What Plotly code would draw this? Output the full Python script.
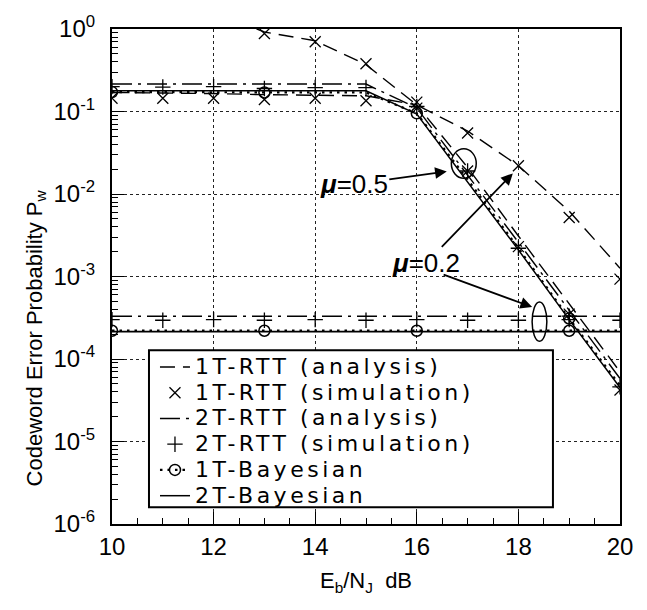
import plotly.graph_objects as go

# ---------------- data ----------------
ebnj = [10, 11, 12, 13, 14, 15, 16, 17, 18, 19, 20]
ebnj_rtt1_ana_mu02 = [12, 13, 14, 15, 16, 17, 18, 19, 20]
ebnj_rtt1_sim_mu02 = [13, 14, 15, 16, 17, 18, 19, 20]

# mu = 0.5
rtt1_ana_mu05 = [0.170, 0.168, 0.165, 0.160, 0.156, 0.155, 0.120, 0.021, 3.1e-3, 4.7e-4, 7.0e-5]
rtt1_sim_mu05 = [0.145, 0.145, 0.145, 0.140, 0.145, 0.135, 0.110, 0.019, 2.3e-3, 3.5e-4, 4.2e-5]
rtt2_ana_mu05 = [0.215, 0.215, 0.215, 0.215, 0.215, 0.215, 0.110, 0.017, 2.6e-3, 3.9e-4, 5.8e-5]
rtt2_sim_mu05 = [0.200, 0.198, 0.200, 0.190, 0.195, 0.195, 0.115, 0.019, 2.2e-3, 3.3e-4, 4.6e-5]
bay1_mu05 = [0.172, 0.172, 0.172, 0.170, 0.170, 0.170, 0.095, 0.0150, 2.2e-3, 3.1e-4, 4.8e-5]
bay2_mu05 = [0.178, 0.178, 0.178, 0.178, 0.178, 0.178, 0.093, 0.0140, 2.1e-3, 3.0e-4, 4.5e-5]

# mu = 0.2
rtt1_ana_mu02 = [1.6, 0.92, 0.72, 0.37, 0.12, 0.058, 0.022, 6.2e-3, 1.26e-3]
rtt1_sim_mu02 = [0.88, 0.70, 0.38, 0.13, 0.055, 0.022, 5.2e-3, 9.3e-4]
rtt2_ana_mu02 = [3.3e-4, 3.3e-4, 3.3e-4, 3.3e-4, 3.3e-4, 3.3e-4, 3.3e-4, 3.3e-4, 3.3e-4, 3.3e-4, 3.3e-4]
rtt2_sim_mu02 = [3.0e-4, 2.95e-4, 3.0e-4, 2.95e-4, 3.0e-4, 2.95e-4, 3.0e-4, 2.95e-4, 2.95e-4, 3.0e-4, 2.95e-4]
bay1_mu02 = [2.2e-4, 2.2e-4, 2.2e-4, 2.2e-4, 2.2e-4, 2.2e-4, 2.2e-4, 2.2e-4, 2.2e-4, 2.2e-4, 2.2e-4]
bay2_mu02 = [2.15e-4, 2.15e-4, 2.15e-4, 2.15e-4, 2.15e-4, 2.15e-4, 2.15e-4, 2.15e-4, 2.15e-4, 2.15e-4, 2.15e-4]

legend_names = ["1T-RTT (analysis)", "1T-RTT (simulation)", "2T-RTT (analysis)",
                "2T-RTT (simulation)", "1T-Bayesian", "2T-Bayesian"]

x_tickvals = [10, 12, 14, 16, 18, 20]
x_ticktext = ["10", "12", "14", "16", "18", "20"]
y_tickvals = [1e-6, 1e-5, 1e-4, 1e-3, 1e-2, 1e-1, 1]
y_ticktext = ["10<sup>-6</sup>", "10<sup>-5</sup>", "10<sup>-4</sup>", "10<sup>-3</sup>",
              "10<sup>-2</sup>", "10<sup>-1</sup>", "10<sup>0</sup>"]

y_title = "Codeword Error Probability P<sub>w</sub>"
x_title = "E<sub>b</sub>/N<sub>J</sub>\u00a0 dB"

# ---------------- styles ----------------
BLACK = "black"
DASH_1T = "15px,8px"
DASH_2T = "20px,6px,3px,6px"
DOT_BAY = "2.5px,5px"
FONT = "Liberation Sans, Arial, sans-serif"


def legname(s):
    return '<span style="font-size:22px;letter-spacing:3.5px">%s</span>' % s


XMARK = dict(symbol="x-thin-open", size=11, color=BLACK, line=dict(color=BLACK, width=1.3))
PMARK = dict(symbol="cross-thin-open", size=11, color=BLACK, line=dict(color=BLACK, width=1.3))
OMARK = dict(symbol="circle-open", size=11, color=BLACK, line=dict(color=BLACK, width=1.5))

fig = go.Figure()

# 1T-RTT analysis
fig.add_trace(go.Scatter(x=ebnj, y=rtt1_ana_mu05, mode="lines", name=legname(legend_names[0]),
                         legendgroup="a", line=dict(color=BLACK, width=1.4, dash=DASH_1T)))
fig.add_trace(go.Scatter(x=ebnj_rtt1_ana_mu02, y=rtt1_ana_mu02, mode="lines", legendgroup="a",
                         showlegend=False, line=dict(color=BLACK, width=1.4, dash=DASH_1T)))
# 1T-RTT simulation
fig.add_trace(go.Scatter(x=ebnj, y=rtt1_sim_mu05, mode="markers", name=legname(legend_names[1]),
                         legendgroup="b", marker=XMARK))
fig.add_trace(go.Scatter(x=ebnj_rtt1_sim_mu02, y=rtt1_sim_mu02, mode="markers", legendgroup="b",
                         showlegend=False, marker=XMARK))
# 2T-RTT analysis
fig.add_trace(go.Scatter(x=ebnj, y=rtt2_ana_mu05, mode="lines", name=legname(legend_names[2]),
                         legendgroup="c", line=dict(color=BLACK, width=1.4, dash=DASH_2T)))
fig.add_trace(go.Scatter(x=ebnj, y=rtt2_ana_mu02, mode="lines", legendgroup="c", showlegend=False,
                         line=dict(color=BLACK, width=1.6, dash=DASH_2T)))
# 2T-RTT simulation
fig.add_trace(go.Scatter(x=ebnj, y=rtt2_sim_mu05, mode="markers", name=legname(legend_names[3]),
                         legendgroup="d", marker=PMARK))
fig.add_trace(go.Scatter(x=ebnj, y=rtt2_sim_mu02, mode="markers", legendgroup="d", showlegend=False,
                         marker=PMARK))
# 1T-Bayesian (circle on every third point: 10, 13, 16, 19 dB)
fig.add_trace(go.Scatter(x=ebnj, y=bay1_mu05, mode="lines+markers", name=legname(legend_names[4]),
                         legendgroup="e", line=dict(color=BLACK, width=2.2, dash=DOT_BAY),
                         marker=dict(OMARK, maxdisplayed=4)))
fig.add_trace(go.Scatter(x=ebnj, y=bay1_mu02, mode="lines", legendgroup="e", showlegend=False,
                         line=dict(color=BLACK, width=2.6, dash=DOT_BAY)))
fig.add_trace(go.Scatter(x=ebnj[::3], y=bay1_mu02[::3], mode="markers", legendgroup="e",
                         showlegend=False, marker=OMARK))
# 2T-Bayesian
fig.add_trace(go.Scatter(x=ebnj, y=bay2_mu05, mode="lines", name=legname(legend_names[5]),
                         legendgroup="f", line=dict(color=BLACK, width=1.5)))
fig.add_trace(go.Scatter(x=ebnj, y=bay2_mu02, mode="lines", legendgroup="f", showlegend=False,
                         line=dict(color=BLACK, width=1.8)))

fig.update_layout(
    width=647, height=610,
    margin=dict(l=112, r=27, t=20, b=86),
    paper_bgcolor="white", plot_bgcolor="white",
    font=dict(family=FONT, color=BLACK, size=22),
    showlegend=True,
    legend=dict(x=0.0846, y=0.3534, xanchor="left", yanchor="top",
                bgcolor="rgba(0,0,0,0)", borderwidth=0,
                font=dict(family="DejaVu Sans, sans-serif", size=17.5, color=BLACK),
                tracegroupgap=0),
    xaxis=dict(range=[10, 20], tickmode="array", tickvals=x_tickvals, ticktext=x_ticktext,
               ticks="inside", ticklen=12, tickwidth=1.3, tickcolor=BLACK,
               minor=dict(dtick=0.5, tick0=10, ticks="inside", ticklen=6, tickcolor=BLACK, showgrid=False),
               showline=True, linewidth=2.2, linecolor=BLACK, mirror=True,
               showgrid=True, gridcolor="#222", griddash="dot", gridwidth=1,
               tickfont=dict(size=24, family=FONT), zeroline=False,
               title=dict(text=x_title, font=dict(size=22), standoff=14)),
    yaxis=dict(type="log", range=[-6, 0], tickmode="array", tickvals=y_tickvals, ticktext=y_ticktext,
               ticks="inside", ticklen=12, tickwidth=1.3, tickcolor=BLACK,
               minor=dict(dtick="D1", ticks="inside", ticklen=6, tickcolor=BLACK, showgrid=False),
               showline=True, linewidth=2.2, linecolor=BLACK, mirror=True,
               showgrid=True, gridcolor="#222", griddash="dot", gridwidth=1,
               tickfont=dict(size=24, family=FONT), ticklabelstandoff=10, zeroline=False),
    shapes=[
        # legend box
        dict(type="rect", xref="paper", yref="paper", x0=0.0728, x1=0.868, y0=0.0337, y1=0.351,
             fillcolor="white", line=dict(color=BLACK, width=2), layer="above"),
        # ellipse mu=0.5
        dict(type="circle", xref="x", yref="y", x0=16.68, x1=17.17, y0=0.0155, y1=0.0353,
             line=dict(color=BLACK, width=1.5)),
        # ellipse mu=0.2
        dict(type="circle", xref="x", yref="y", x0=18.27, x1=18.56, y0=1.64e-4, y1=4.9e-4,
             line=dict(color=BLACK, width=1.5)),
    ],
    annotations=[
        # y-axis title (placed above centre, as in the original)
        dict(x=-0.181, y=0.679, xref="paper", yref="paper", text=y_title, textangle=-90,
             showarrow=False, font=dict(size=22, family=FONT, color=BLACK)),
        dict(x=16.59, y=-1.726, xref="x", yref="y", text="<b><i>μ</i></b>=0.5",
             showarrow=True, ax=-93, ay=13, arrowhead=2, arrowsize=1.3, arrowwidth=1.8,
             arrowcolor=BLACK, font=dict(size=26, family=FONT, color=BLACK)),
        dict(x=17.89, y=-1.75, xref="x", yref="y", text="<b><i>μ</i></b>=0.2",
             showarrow=True, ax=-87, ay=90, arrowhead=2, arrowsize=1.3, arrowwidth=1.8,
             arrowcolor=BLACK, font=dict(size=26, family=FONT, color=BLACK)),
        dict(x=18.27, y=-3.37, xref="x", yref="y", text="",
             showarrow=True, ax=-90, ay=-33, arrowhead=2, arrowsize=1.3, arrowwidth=1.8,
             arrowcolor=BLACK),
    ],
)

fig.write_html("out.html")
